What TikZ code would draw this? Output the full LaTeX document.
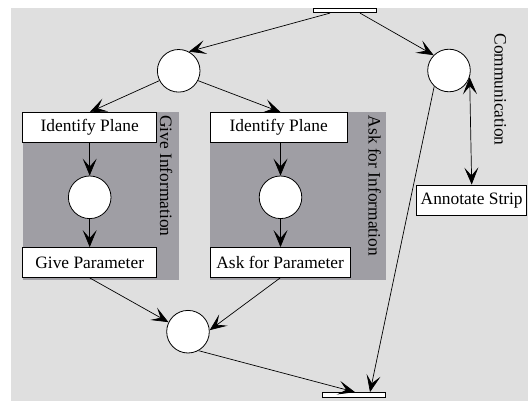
\documentclass[tikz,border=0pt]{standalone}
\usepackage{fontspec}
\setmainfont{Liberation Serif}
\usetikzlibrary{arrows.meta}
\definecolor{bggray}{RGB}{223,223,223}
\definecolor{panelgray}{RGB}{159,158,164}

\begin{document}
\begin{tikzpicture}[x=1pt,y=-1pt,
  font=\fontsize{17.4}{20}\selectfont,
  place/.style={circle,draw,fill=white,minimum size=42.6pt,inner sep=0pt,line width=0.8pt},
  task/.style={rectangle,draw,fill=white,minimum height=30pt,inner sep=0pt,line width=0.8pt},
  bar/.style={rectangle,draw,fill=white,minimum width=63pt,minimum height=4.5pt,inner sep=0pt,line width=0.7pt},
  vlabel/.style={rotate=-90,anchor=base west,inner sep=0pt},
  arc/.style={-{Stealth[length=17pt,width=14pt,inset=8pt]},line width=0.7pt},
  biarc/.style={{Stealth[length=17pt,width=14pt,inset=8pt]}-{Stealth[length=17pt,width=14pt,inset=8pt]},line width=0.7pt}]
\useasboundingbox (0,0) rectangle (528,401);
\fill[bggray] (11,8) rectangle (528,401);

% grey panels for the two sub-activities
\fill[panelgray] (22.7,112) rectangle (179,280);
\fill[panelgray] (210.4,112) rectangle (385.7,280);

% transitions (bars)
\node[bar] (tb) at (344.5,10.5) {};
\node[bar] (bb) at (354.3,394.7) {};

% places
\node[place] (lc) at (178.7,70.8) {};
\node[place] (rc) at (449,70.5) {};
\node[place] (c1) at (89.7,197.3) {};
\node[place] (c2) at (280.5,197.3) {};
\node[place] (bc) at (188,331.7) {};

% activities
\node[task,minimum width=134pt] (ip1) at (89.7,127.5) {Identify Plane};
\node[task,minimum width=134pt] (gp) at (89.7,262.5) {Give Parameter};
\node[task,minimum width=136.6pt] (ip2) at (278.7,127.5) {Identify Plane};
\node[task,minimum width=139.6pt] (ap) at (280.2,262.5) {Ask for Parameter};
\node[task,minimum width=110pt,minimum height=30.7pt] (ann) at (471.7,200.3) {Annotate Strip};

% vertical captions
\node[vlabel] (lgive) at (160,115) {Give Information};
\node[vlabel] (lask) at (368.5,115.5) {Ask for Information};
\node[vlabel] (lcomm) at (494.5,33.3) {Communication};

% connectors
\draw[arc] ([xshift=-14.5pt]tb.south) -- (lc.62);
\draw[arc] ([xshift=15.5pt]tb.south) -- (rc.135);
\draw[arc] (lc.207) -- (ip1.north);
\draw[arc] (lc.333) -- (c2 |- ip2.north);
\draw[arc] (ip1) -- (c1);
\draw[arc] (c1) -- (gp);
\draw[arc] (c2 |- ip2.south) -- (c2);
\draw[arc] (c2) -- (c2 |- ap.north);
\draw[arc] (gp.south) -- (bc.154);
\draw[arc] (ap.south) -- (bc.4);
\draw[arc] (bc.-61) -- ([xshift=0.7pt]bb.north);
\draw[arc] (rc.-133) -- ([xshift=15.7pt]bb.north);
\draw[biarc] (rc.-18) -- (ann.north);
\end{tikzpicture}
\end{document}
